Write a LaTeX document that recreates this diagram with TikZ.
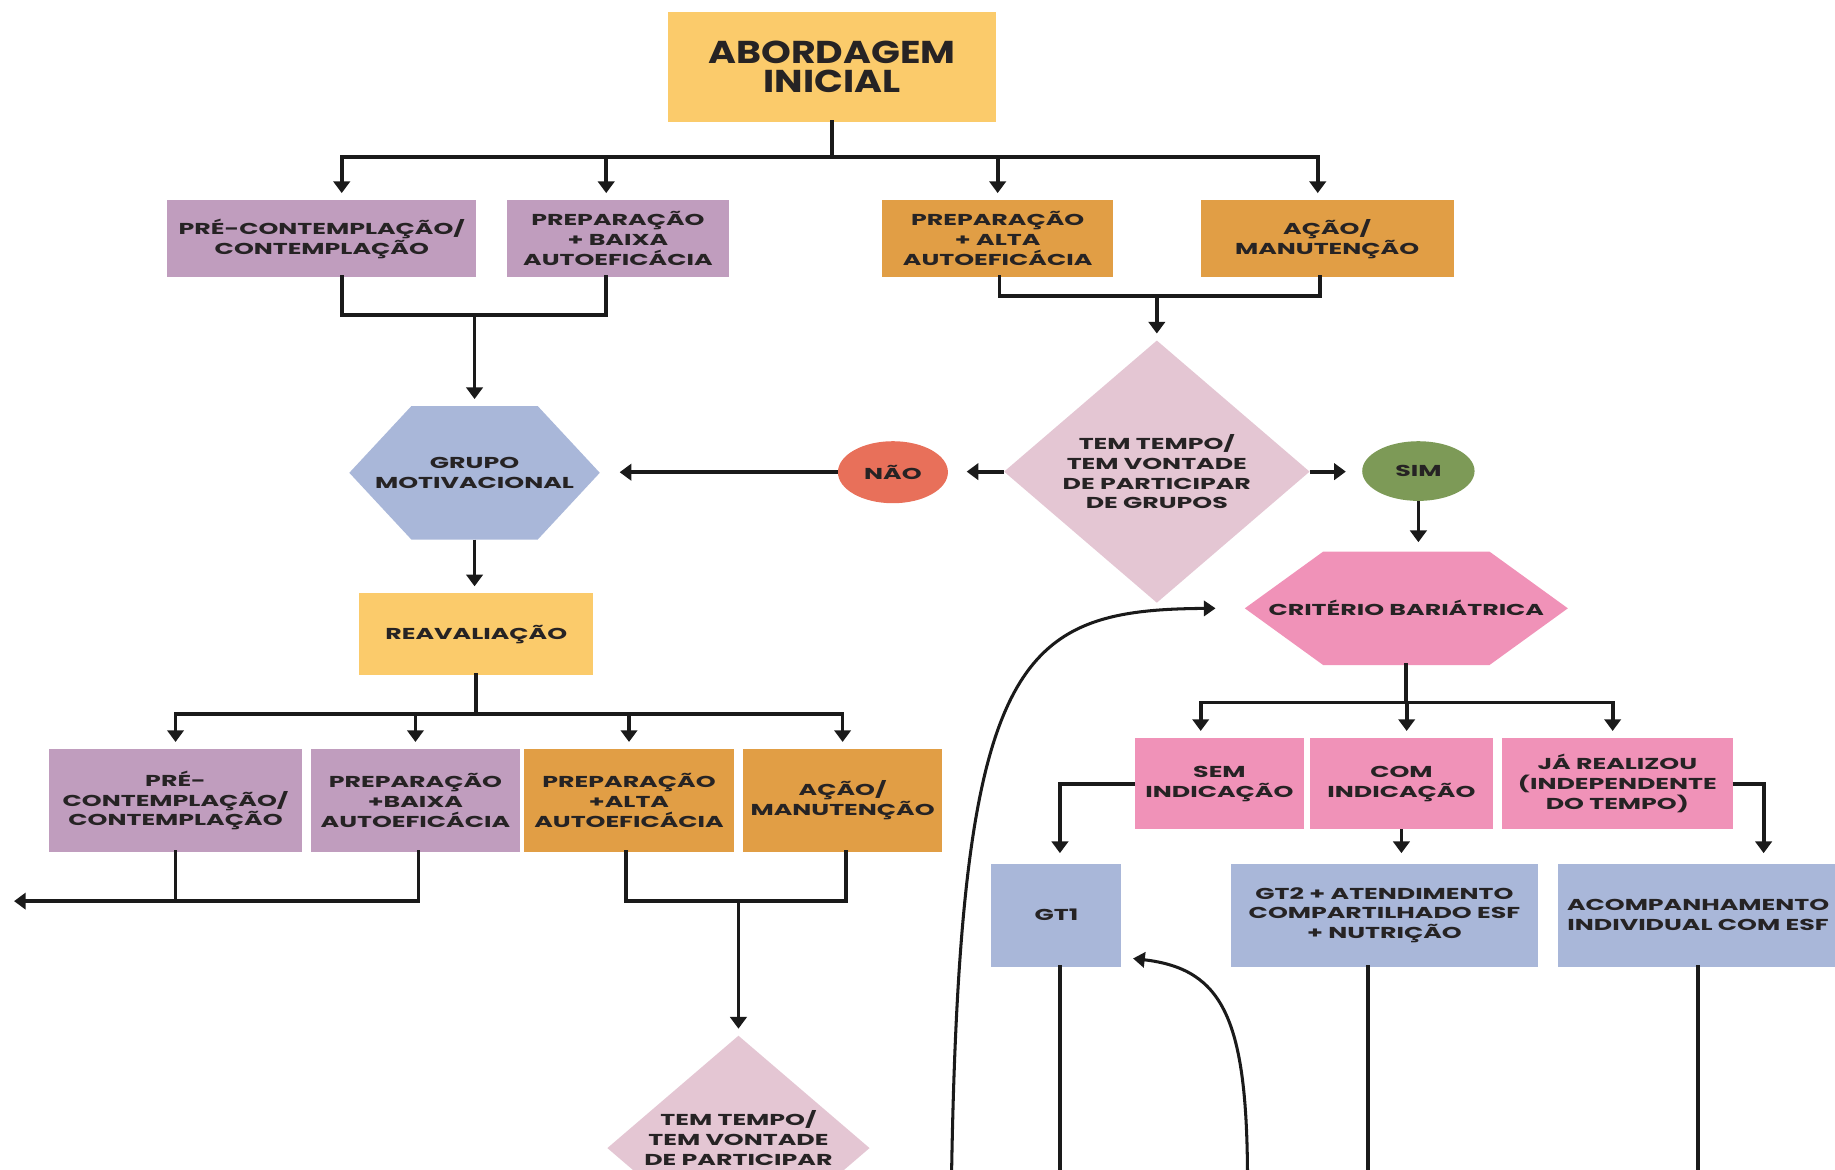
\documentclass[tikz,border=0pt]{standalone}
\usepackage{fontspec}
\usetikzlibrary{arrows.meta,calc,shapes.geometric}
\newfontfamily\titlefam{Poppins}[FakeStretch=1.2]
\newfontfamily\boxfam{Poppins}[FakeStretch=1.6]
\definecolor{ink}{HTML}{262324}
\definecolor{wire}{HTML}{1A1A1A}
\definecolor{yel}{HTML}{FBCB6B}
\definecolor{pur}{HTML}{C09DBE}
\definecolor{org}{HTML}{E19E45}
\definecolor{blu}{HTML}{A9B7D9}
\definecolor{pnk}{HTML}{F092B8}
\definecolor{dia}{HTML}{E4C6D3}
\definecolor{red}{HTML}{E8705A}
\definecolor{grn}{HTML}{7D9A57}
\tikzset{
  lbl/.style={inner sep=0pt, outer sep=0pt, text=ink, align=center,
    font=\boxfam\bfseries\fontsize{13.5}{17}\selectfont},
  bx/.style n args={3}{lbl, minimum width=#1pt, minimum height=#2pt, fill=#3},
  hx/.style n args={4}{lbl, minimum width=#1pt, minimum height=#2pt, fill=white,
    path picture={\fill[#4]
      ([xshift=#3pt]path picture bounding box.north west) --
      ([xshift=-#3pt]path picture bounding box.north east) --
      (path picture bounding box.east) --
      ([xshift=-#3pt]path picture bounding box.south east) --
      ([xshift=#3pt]path picture bounding box.south west) --
      (path picture bounding box.west) -- cycle;}},
  dm/.style n args={3}{lbl, minimum width=#1pt, minimum height=#2pt, fill=white,
    path picture={\fill[#3]
      (path picture bounding box.north) -- (path picture bounding box.east) --
      (path picture bounding box.south) -- (path picture bounding box.west) -- cycle;}},
  el/.style n args={3}{lbl, ellipse, minimum width=#1pt, minimum height=#2pt, fill=#3},
  ln/.style={line width=3.2pt, draw=wire, line cap=rect},
  arr/.style={ln, line cap=butt, -{Triangle[width=14pt,length=10pt]}, shorten >=6pt},
  cur/.style={line width=2.6pt, draw=wire, -{Triangle[width=13pt,length=10pt]}},
}
\begin{document}
\begin{tikzpicture}[x=1pt,y=-1pt]
\useasboundingbox (0,0) rectangle (1568,999);
\clip (0,0) rectangle (1568,999);

% ---- nodes ----
\node[bx={280}{94}{yel}, font=\titlefam\bfseries\fontsize{27}{25}\selectfont] (ab) at (711,57) {ABORDAGEM\\INICIAL};

\node[bx={264}{66}{pur}] (p1) at (275,204) {PRÉ-CONTEMPLAÇÃO/\\CONTEMPLAÇÃO};
\node[bx={190}{66}{pur}] (p2) at (528,204) {PREPARAÇÃO\\+ BAIXA\\AUTOEFICÁCIA};
\node[bx={197}{66}{org}] (p3) at (852.5,204) {PREPARAÇÃO\\+ ALTA\\AUTOEFICÁCIA};
\node[bx={216}{66}{org}] (p4) at (1134,204) {AÇÃO/\\MANUTENÇÃO};

\node[hx={214}{114}{53}{blu}] (gm) at (405.5,404) {GRUPO\\MOTIVACIONAL};
\node[el={94}{53}{red}] (nao) at (763,403.5) {NÃO};
\node[dm={261}{224}{dia}] (d1) at (988.5,403) {TEM TEMPO/\\TEM VONTADE\\DE PARTICIPAR\\DE GRUPOS};
\node[el={96}{51}{grn}] (sim) at (1212,402.5) {SIM};

\node[hx={276}{97}{67}{pnk}] (cb) at (1201.7,519.8) {CRITÉRIO BARIÁTRICA};
\node[bx={200}{70}{yel}] (rv) at (407,542) {REAVALIAÇÃO};

\node[bx={216}{88}{pur}] (r1) at (150,684) {PRÉ-\\CONTEMPLAÇÃO/\\CONTEMPLAÇÃO};
\node[bx={178}{88}{pur}] (r2) at (355,684) {PREPARAÇÃO\\+BAIXA\\AUTOEFICÁCIA};
\node[bx={179}{88}{org}] (r3) at (537.5,684) {PREPARAÇÃO\\+ALTA\\AUTOEFICÁCIA};
\node[bx={170}{88}{org}] (r4) at (720,684) {AÇÃO/\\MANUTENÇÃO};

\node[bx={144}{78}{pnk}] (s1) at (1042,669.6) {SEM\\INDICAÇÃO};
\node[bx={156}{78}{pnk}] (s2) at (1197.5,669.6) {COM\\INDICAÇÃO};
\node[bx={197}{78}{pnk}] (s3) at (1382,669.6) {JÁ REALIZOU\\(INDEPENDENTE\\DO TEMPO)};

\node[bx={111}{88}{blu}] (gt1) at (902.7,782) {GT1};
\node[bx={262}{88}{blu}] (gt2) at (1183,782) {GT2 + ATENDIMENTO\\COMPARTILHADO ESF\\+ NUTRIÇÃO};
\node[bx={240}{88}{blu}] (ac) at (1451,782) {ACOMPANHAMENTO\\INDIVIDUAL COM ESF};

\node[dm={224}{192}{dia}] (d2) at (631,981) {TEM TEMPO/\\TEM VONTADE\\DE PARTICIPAR\\DE GRUPOS};

% ---- junction points ----
\coordinate (j1) at ($(ab.south)+(0,30)$);
\coordinate (j2) at ($(gm.north)+(0,-78)$);
\coordinate (j3) at ($(d1.north)+(0,-38)$);
\coordinate (j4) at ($(rv.south)+(0,33)$);
\coordinate (j5) at ($(r1.south)+(0,42)$);
\coordinate (j6) at ($(cb.south)+(0,32)$);
\coordinate (lout) at (12,770);

% ---- first split ----
\draw[ln] (ab.south) -- (j1);
\draw[ln] ([xshift=17pt]p1.north |- j1) -- ([xshift=-8pt]p4.north |- j1);
\foreach \n/\dx in {p1/17, p2/-10, p3/0, p4/-8}
  \draw[arr] ([xshift=\dx pt]\n.north |- j1) -- ([xshift=\dx pt]\n.north);

\draw[ln] ([xshift=17pt]p1.south) |- ([xshift=-10pt]p2.south |- j2) -- ([xshift=-10pt]p2.south);
\draw[arr] (j2) -- (gm.north);
\draw[ln] ([xshift=1.5pt]p3.south) |- ([xshift=-6pt]p4.south |- j3) -- ([xshift=-6pt]p4.south);
\draw[arr] (j3) -- (d1.north);

% ---- decision ----
\draw[arr, shorten >=16pt] (d1.west) -- (d1.west -| nao.east);
\draw[arr, shorten >=17pt] (nao.west) -- (nao.west -| gm.east);
\draw[arr, shorten >=14pt] (d1.east) -- (d1.east -| sim.west);
\draw[arr, shorten >=8pt] (sim.south) -- (sim.south |- cb.north);

% ---- reassessment ----
\draw[arr] (gm.south) -- (gm.south |- rv.north);
\draw[ln] (rv.south) -- (j4);
\draw[ln] (r1.north |- j4) -- (r4.north |- j4);
\foreach \n in {r1,r2,r3,r4}
  \draw[arr] (\n.north |- j4) -- (\n.north);
\draw[ln] (r1.south) -- (r1.south |- j5);
\draw[arr, line cap=rect, shorten >=0pt] ([xshift=2.5pt]r2.south) |- (lout);
\draw[ln] ([xshift=-2.5pt]r3.south) |- ([xshift=3pt]r4.south |- j5) -- ([xshift=3pt]r4.south);
\draw[arr] (d2.north |- j5) -- (d2.north);

% ---- bariatric criterion ----
\draw[ln] (cb.south) -- (j6);
\draw[ln] ([xshift=-16pt]s1.north |- j6) -- ([xshift=-4pt]s3.north |- j6);
\foreach \n/\dx in {s1/-16, s2/4.5, s3/-4}
  \draw[arr] ([xshift=\dx pt]\n.north |- j6) -- ([xshift=\dx pt]\n.north);
\draw[arr, shorten >=9pt] (s1.west) -| ([xshift=3pt]gt1.north);
\draw[arr, shorten >=9pt] (s2.south) -- (s2.south |- gt2.north);
\draw[arr, shorten >=9pt] (s3.east) -| ([xshift=56pt]ac.north);

\draw[ln] ([xshift=3pt]gt1.south) -- ++(0,240);
\draw[ln] ([xshift=-14pt]gt2.south) -- ++(0,240);
\draw[ln] (ac.south) -- ++(0,240);

% ---- return paths ----
\coordinate (ra) at (813,1010);
\coordinate (rb) at (1066,1010);
\draw[cur] (ra) .. controls (820,560) and (870,521) .. ([xshift=-25pt]cb.west);
\draw[cur] (rb) .. controls (1066,870) and (1045,828) .. ([xshift=10pt,yshift=-37pt]gt1.east);
\end{tikzpicture}
\end{document}
